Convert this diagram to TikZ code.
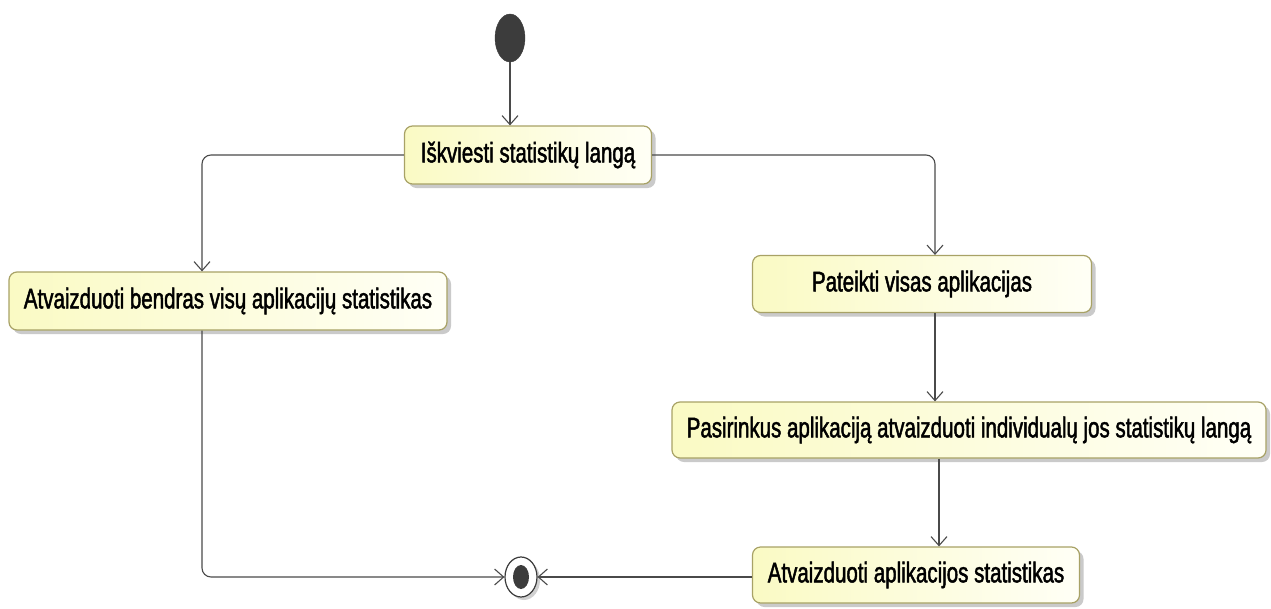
\documentclass[tikz,border=0pt]{standalone}
\usepackage{fontspec}
\newfontfamily\actfont[FakeStretch=0.72,FakeBold=1.6]{Liberation Sans}
\usetikzlibrary{arrows.meta,shadows,shapes.geometric}
\definecolor{actfill}{HTML}{FAFAC4}
\definecolor{actlight}{HTML}{FFFFF6}
\definecolor{actborder}{HTML}{A8A266}
\definecolor{flow}{HTML}{4A4A4A}
\definecolor{dot}{HTML}{3C3C3C}
\begin{document}
\begin{tikzpicture}[x=1pt,y=-1pt,
  action/.style={draw=actborder,line width=1.2pt,rounded corners=8pt,
    left color=actfill,right color=actlight,
    drop shadow={shadow xshift=4pt,shadow yshift=-4pt,fill=black!35,opacity=0.6},
    font=\actfont\fontsize{28.5}{32}\selectfont,text=black,
    inner sep=0pt,anchor=center},
  flowline/.style={draw=flow,line width=1.1pt,rounded corners=9pt,
    -{Straight Barb[length=9pt,width=16pt,line width=1.1pt]}},
  startdot/.style={ellipse,fill=dot,draw=dot,minimum width=30pt,minimum height=48pt,inner sep=0pt},
]
\useasboundingbox (0,0) rectangle (1271,608);

% initial and final nodes
\node[startdot] (s) at (510,38) {};
\node[ellipse,draw=dot,fill=white,line width=1.2pt,minimum width=32pt,minimum height=40pt,inner sep=0pt,
  drop shadow={shadow xshift=3pt,shadow yshift=-3pt,fill=black!30,opacity=0.6}] (e) at (521,577) {};
\node[ellipse,fill=dot,minimum width=16pt,minimum height=24pt,inner sep=0pt] (ei) at (e) {};

% actions
\node[action,minimum width=247pt,minimum height=58pt] (n1) at (528,155) {Iškviesti statistikų langą};
\node[action,minimum width=438pt,minimum height=58pt] (n2) at (228,301) {Atvaizduoti bendras visų aplikacijų statistikas};
\node[action,minimum width=339pt,minimum height=57pt] (n3) at (922,284) {Pateikti visas aplikacijas};
\node[action,minimum width=594pt,minimum height=56pt] (n4) at (969,430) {Pasirinkus aplikaciją atvaizduoti individualų jos statistikų langą};
\node[action,minimum width=327pt,minimum height=56pt] (n5) at (916,575) {Atvaizduoti aplikacijos statistikas};

% control flows
\draw[flowline] (s.south) -- (s.south |- n1.north);
\draw[flowline] (n1.west) -| ([xshift=-26pt]n2.north);
\draw[flowline] (n1.east) -| ([xshift=13pt]n3.north);
\draw[flowline] ([xshift=13pt]n3.south) -- ([xshift=13pt]n3.south |- n4.north);
\draw[flowline] ([xshift=23pt]n5.north |- n4.south) -- ([xshift=23pt]n5.north);
\draw[flowline] ([xshift=-26pt]n2.south) |- (e.west);
\draw[flowline] (e.east -| n5.west) -- (e.east);
\end{tikzpicture}
\end{document}
